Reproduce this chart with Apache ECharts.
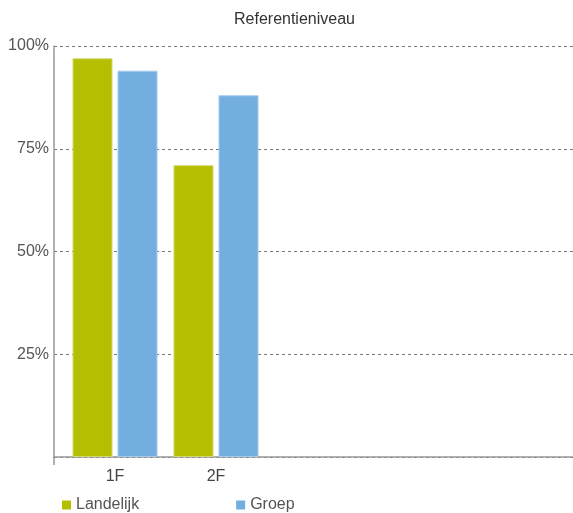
<!DOCTYPE html>
<html><head><meta charset="utf-8">
<script src="https://cdn.jsdelivr.net/npm/echarts@6/dist/echarts.min.js"></script>
<style>html,body{margin:0;padding:0;background:#fff}#c{width:573px;height:513px}</style>
</head><body><div id="c"></div>
<script>
var categories = ['1F', '2F', '', '', ''];
var landelijk = [97, 71, null, null, null];
var groep = [94, 88, null, null, null];
var yTicks = [0, 25, 50, 75, 100];
var titleText = 'Referentieniveau';

var chart = echarts.init(document.getElementById('c'));
var font = 'Liberation Sans, Arial, sans-serif';
chart.setOption({
  animation: false,
  textStyle: {fontFamily: font},
  title: {text: titleText, left: 229, top: 7,
    textStyle: {fontSize: 16, fontWeight: 'normal', color: '#333', fontFamily: font}},
  legend: {left: 62, top: 497, itemWidth: 9, itemHeight: 9, itemGap: 97, icon: 'rect',
    itemStyle: {borderWidth: 0},
    textStyle: {fontSize: 16, color: '#555', fontFamily: font}, padding: 0,
    data: ['Landelijk', 'Groep']},
  grid: [
    {left: 54, right: 0, top: 46, bottom: 56},
    {left: 64.5, width: 505, top: 46, bottom: 56}
  ],
  xAxis: [
    {gridIndex: 0, type: 'value', min: 0, max: 1, interval: 1,
      axisLine: {show: true, lineStyle: {color: '#999', width: 1.5}},
      axisTick: {show: true, length: 8, customValues: [0], lineStyle: {color: '#999', width: 1.5}},
      axisLabel: {show: false}, splitLine: {show: false}},
    {gridIndex: 1, type: 'category', data: categories,
      axisLine: {show: false}, axisTick: {show: false},
      axisLabel: {fontSize: 16, color: '#444', margin: 12, fontFamily: font}}
  ],
  yAxis: [
    {gridIndex: 0, type: 'value', min: 0, max: 100, interval: 25,
      axisLine: {show: true, lineStyle: {color: '#999', width: 1.5}},
      axisTick: {show: false},
      axisLabel: {fontSize: 16, color: '#555', margin: 5, fontFamily: font,
        formatter: function (v) { return v === 0 ? '' : v + '%'; }},
      splitLine: {show: true, lineStyle: {color: '#777', type: [3, 3], width: 1}}},
    {gridIndex: 1, type: 'value', min: 0, max: 100, show: false}
  ],
  series: [
    {name: 'Landelijk', type: 'bar', xAxisIndex: 1, yAxisIndex: 1, data: landelijk,
      barWidth: 40, barGap: '12.5%', itemStyle: {color: '#b5be00', borderColor: '#d2d86a', borderWidth: 1}},
    {name: 'Groep', type: 'bar', xAxisIndex: 1, yAxisIndex: 1, data: groep,
      barWidth: 40, itemStyle: {color: '#72aee0', borderColor: '#a4cbee', borderWidth: 1}}
  ]
});
</script></body></html>
